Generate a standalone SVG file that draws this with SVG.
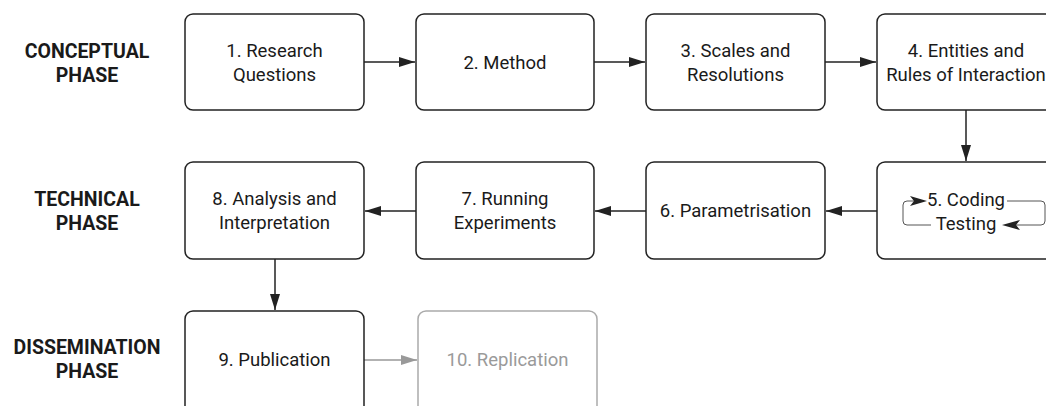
<svg xmlns="http://www.w3.org/2000/svg" width="1046" height="406" viewBox="0 0 1046 406">
<style>
.box{fill:#fff;stroke:#222;stroke-width:1.5}
.gbox{fill:#fff;stroke:#aaa;stroke-width:1.5}
.t{font-family:Roboto,"Liberation Sans",sans-serif;font-size:18.5px;fill:#1a1a1a;text-anchor:middle}
.gt{font-family:Roboto,"Liberation Sans",sans-serif;font-size:18.5px;fill:#9a9a9a;text-anchor:middle}
.h{font-family:Roboto,"Liberation Sans",sans-serif;font-size:19.5px;font-weight:bold;fill:#1a1a1a;text-anchor:middle}
.c{fill:none;stroke:#222;stroke-width:1.5}
.gc{fill:none;stroke:#999;stroke-width:1.5}
.loop{fill:none;stroke:#555;stroke-width:1}
</style>
<defs>
<marker id="ab" viewBox="0 0 16 10" refX="16" refY="5" markerWidth="16" markerHeight="10" markerUnits="userSpaceOnUse" orient="auto"><path d="M0,0L16,5L0,10z" fill="#222"/></marker>
<marker id="ag" viewBox="0 0 16 10" refX="16" refY="5" markerWidth="16" markerHeight="10" markerUnits="userSpaceOnUse" orient="auto"><path d="M0,0L16,5L0,10z" fill="#999"/></marker>
</defs>
<g id="labels">
<text class="h" x="87" y="58">CONCEPTUAL</text><text class="h" x="87" y="82">PHASE</text>
<text class="h" x="87" y="206">TECHNICAL</text><text class="h" x="87" y="230">PHASE</text>
<text class="h" x="87" y="354">DISSEMINATION</text><text class="h" x="87" y="378">PHASE</text>
</g>
<g id="connectors">
<line class="c" x1="364" y1="62" x2="415" y2="62" marker-end="url(#ab)"/>
<line class="c" x1="594" y1="62" x2="645" y2="62" marker-end="url(#ab)"/>
<line class="c" x1="825" y1="62" x2="876" y2="62" marker-end="url(#ab)"/>
<line class="c" x1="966" y1="110" x2="966" y2="161" marker-end="url(#ab)"/>
<line class="c" x1="877" y1="211" x2="826" y2="211" marker-end="url(#ab)"/>
<line class="c" x1="646" y1="211" x2="595" y2="211" marker-end="url(#ab)"/>
<line class="c" x1="416" y1="211" x2="365" y2="211" marker-end="url(#ab)"/>
<line class="c" x1="275" y1="259" x2="275" y2="310" marker-end="url(#ab)"/>
<line class="gc" x1="364" y1="360" x2="417" y2="360" marker-end="url(#ag)"/>
</g>
<g id="n1"><rect class="box" x="185" y="14" width="179" height="96" rx="8"/><text class="t" x="274.5" y="57">1. Research</text><text class="t" x="274.5" y="81">Questions</text></g>
<g id="n2"><rect class="box" x="416" y="14" width="178" height="96" rx="8"/><text class="t" x="505" y="69">2. Method</text></g>
<g id="n3"><rect class="box" x="646" y="14" width="179" height="96" rx="8"/><text class="t" x="735.5" y="57">3. Scales and</text><text class="t" x="735.5" y="81">Resolutions</text></g>
<g id="n4"><rect class="box" x="877" y="14" width="179" height="96" rx="8"/><text class="t" x="966" y="57">4. Entities and</text><text class="t" x="966" y="81">Rules of Interaction</text></g>
<g id="n5"><rect class="box" x="877" y="162" width="179" height="97" rx="8"/>
<path class="loop" d="M931,225 H907 Q903,225 903,221 V205 Q903,201 907,201 H924"/>
<path d="M910,196 L927,201 L910,206 L914,201z" fill="#222"/>
<path class="loop" d="M1007,201 H1041 Q1045,201 1045,205 V221 Q1045,225 1041,225 H1006"/>
<path d="M1020,220 L1002,225 L1020,230 L1016,225z" fill="#222"/>
<text class="t" x="966" y="206">5. Coding</text><text class="t" x="966" y="230">Testing</text></g>
<g id="n6"><rect class="box" x="646" y="162" width="179" height="97" rx="8"/><text class="t" x="735.5" y="217">6. Parametrisation</text></g>
<g id="n7"><rect class="box" x="416" y="162" width="178" height="97" rx="8"/><text class="t" x="505" y="205">7. Running</text><text class="t" x="505" y="229">Experiments</text></g>
<g id="n8"><rect class="box" x="185" y="162" width="179" height="97" rx="8"/><text class="t" x="274.5" y="205">8. Analysis and</text><text class="t" x="274.5" y="229">Interpretation</text></g>
<g id="n9"><rect class="box" x="185" y="311" width="179" height="105" rx="8"/><text class="t" x="274.5" y="366">9. Publication</text></g>
<g id="n10"><rect class="gbox" x="418" y="311" width="179" height="105" rx="8"/><text class="gt" x="507.5" y="366">10. Replication</text></g>
</svg>
